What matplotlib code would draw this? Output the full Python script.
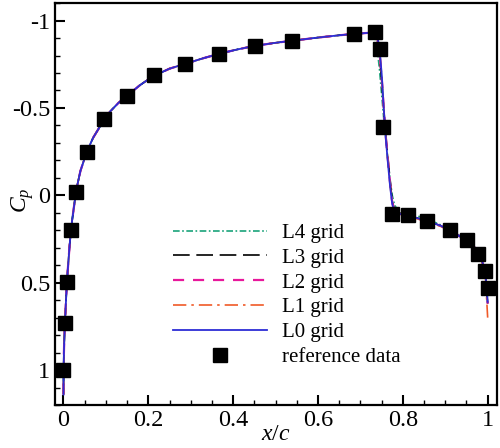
import matplotlib
matplotlib.use("Agg")
import matplotlib.pyplot as plt
from matplotlib.ticker import MultipleLocator, FuncFormatter

plt.rcParams['font.family'] = ['Liberation Serif', 'DejaVu Serif']
plt.rcParams['mathtext.fontset'] = 'custom'
plt.rcParams['mathtext.rm'] = 'Liberation Serif'
plt.rcParams['mathtext.it'] = 'Liberation Serif:italic'

# reference (experimental) data
ref_x = [-0.0015, 0.004, 0.008, 0.017, 0.029, 0.055, 0.096, 0.150, 0.214, 0.287,
         0.367, 0.452, 0.539, 0.686, 0.735, 0.745, 0.754, 0.774, 0.812, 0.858,
         0.911, 0.951, 0.977, 0.994, 1.0]
ref_cp = [1.0, 0.733, 0.495, 0.198, -0.019, -0.248, -0.434, -0.57, -0.686, -0.749,
          -0.811, -0.857, -0.886, -0.926, -0.935, -0.84, -0.39, 0.105, 0.114, 0.147,
          0.2, 0.255, 0.333, 0.432, 0.533]

# common part of the computed curves (leading edge to just before the shock)
front_x = [0.0, 0.0003, 0.001, 0.002, 0.004, 0.007, 0.01, 0.015, 0.02, 0.03, 0.04,
           0.055, 0.07, 0.09, 0.11, 0.13, 0.15, 0.18, 0.21, 0.25, 0.29, 0.33, 0.37,
           0.41, 0.45, 0.5, 0.55, 0.6, 0.65, 0.69, 0.72]
front_cp = [1.14, 1.0, 0.9, 0.82, 0.7, 0.55, 0.43, 0.27, 0.15, -0.03, -0.14,
            -0.25, -0.33, -0.41, -0.48, -0.53, -0.57, -0.63, -0.68, -0.725, -0.755,
            -0.785, -0.812, -0.835, -0.855, -0.873, -0.888, -0.903, -0.916, -0.925, -0.93]

# shock + rear part, per grid
l0_x = [0.735, 0.740, 0.745, 0.750, 0.755, 0.760, 0.765, 0.770, 0.775, 0.780, 0.79,
        0.81, 0.83, 0.86, 0.89, 0.91, 0.93, 0.95, 0.97, 0.98, 0.99, 0.995, 1.0]
l0_cp = [-0.932, -0.91, -0.84, -0.70, -0.50, -0.32, -0.18, -0.05, 0.05, 0.09, 0.105,
         0.115, 0.128, 0.148, 0.175, 0.2, 0.228, 0.258, 0.3, 0.335, 0.4, 0.46, 0.61]

l1_x = l0_x
l1_cp = [-0.932, -0.905, -0.83, -0.69, -0.50, -0.33, -0.19, -0.06, 0.05, 0.095, 0.11,
         0.12, 0.132, 0.152, 0.178, 0.203, 0.23, 0.26, 0.3, 0.335, 0.41, 0.48, 0.70]

l2_x = l0_x
l2_cp = [-0.932, -0.9, -0.82, -0.68, -0.50, -0.33, -0.2, -0.07, 0.04, 0.09, 0.105,
         0.117, 0.13, 0.15, 0.176, 0.2, 0.228, 0.258, 0.3, 0.335, 0.4, 0.46, 0.62]

l3_x = l0_x
l3_cp = [-0.932, -0.89, -0.8, -0.66, -0.49, -0.34, -0.21, -0.08, 0.03, 0.08, 0.1,
         0.112, 0.127, 0.148, 0.175, 0.2, 0.228, 0.258, 0.3, 0.335, 0.4, 0.46, 0.62]

l4_x = [0.728, 0.735, 0.740, 0.745, 0.750, 0.755, 0.760, 0.765, 0.770, 0.775, 0.780,
        0.785, 0.79, 0.81, 0.83, 0.86, 0.89, 0.91, 0.93, 0.95, 0.97, 0.98, 0.99, 0.995, 1.0]
l4_cp = [-0.93, -0.9, -0.83, -0.72, -0.58, -0.44, -0.32, -0.2, -0.09, 0.0, 0.05,
         0.075, 0.085, 0.1, 0.115, 0.138, 0.17, 0.195, 0.225, 0.255, 0.3, 0.335, 0.4, 0.46, 0.6]

fig = plt.figure(figsize=(5.0, 4.48), dpi=100)
ax = fig.add_axes([0.11, 0.096, 0.884, 0.897])

ax.plot(front_x + l4_x, front_cp + l4_cp, color='#1aa37a', lw=1.2,
        dashes=(4, 1.5, 1, 1.5), label='L4 grid')
ax.plot(front_x + l3_x, front_cp + l3_cp, color='black', lw=1.2,
        dashes=(10, 4), label='L3 grid')
ax.plot(front_x + l2_x, front_cp + l2_cp, color='#e8189b', lw=1.6,
        dashes=(5, 4), label='L2 grid')
ax.plot(front_x + l1_x, front_cp + l1_cp, color='#f05a28', lw=1.2,
        dashes=(8, 3, 1.5, 3), label='L1 grid')
ax.plot(front_x + l0_x, front_cp + l0_cp, color='#2d2dd6', lw=1.3,
        label='L0 grid')
ax.plot(ref_x, ref_cp, 's', color='black', ms=9.5, label='reference data')

ax.set_xlim(-0.02, 1.022)
ax.set_ylim(1.2, -1.1)

ax.xaxis.set_major_locator(MultipleLocator(0.2))
ax.xaxis.set_minor_locator(MultipleLocator(0.05))
ax.yaxis.set_major_locator(MultipleLocator(0.5))
ax.yaxis.set_minor_locator(MultipleLocator(0.1))
fmt = FuncFormatter(lambda v, p: ('%g' % round(v, 2)))
ax.xaxis.set_major_formatter(fmt)
ax.yaxis.set_major_formatter(fmt)

ax.tick_params(which='both', direction='in', top=False, right=False, labelsize=17.5)
ax.tick_params(which='major', length=7, width=1.5)
ax.tick_params(which='minor', length=3.5, width=1)
for s in ax.spines.values():
    s.set_linewidth(1.6)

ax.set_xlabel('$x/c$', fontsize=17, labelpad=-5)
ax.set_ylabel('$C_p$', fontsize=17, rotation=90)
ax.yaxis.set_label_coords(-0.042, 0.51)

ax.legend(loc='upper left', bbox_to_anchor=(0.267, 0.452), frameon=False,
          fontsize=15, handlelength=4.5, handletextpad=0.75, labelspacing=0.25,
          borderpad=0, borderaxespad=0, markerscale=1.0)

fig.savefig('out.png', dpi=100)
